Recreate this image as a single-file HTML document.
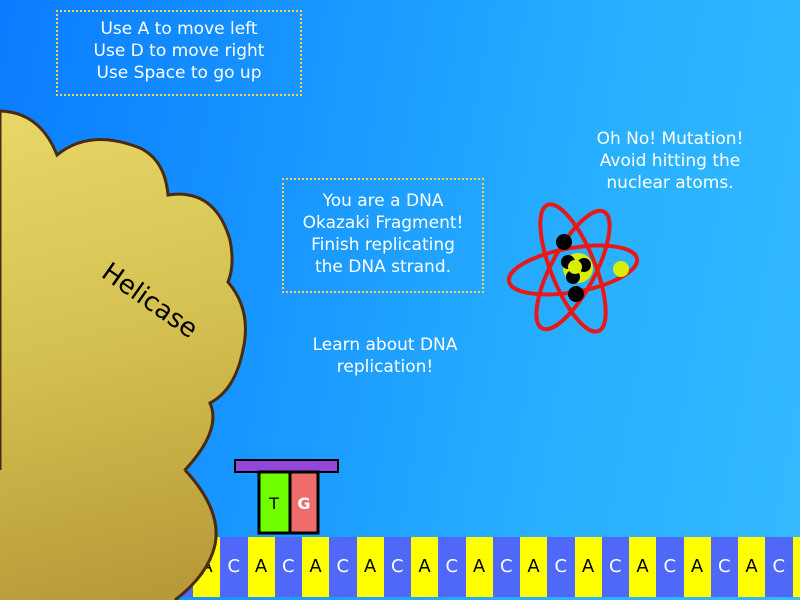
<!DOCTYPE html>
<html><head><meta charset="utf-8"><style>
html,body{margin:0;padding:0}
#game{position:relative;width:800px;height:600px;overflow:hidden;background:linear-gradient(100deg,#0a7cff 0%,#1896ff 35%,#28b0ff 70%,#35baff 100%);font-family:"DejaVu Sans","Liberation Sans",sans-serif;color:#fff}
.box{position:absolute;border:2px dotted #f0d060;text-align:center;font-size:17px;line-height:22px;box-sizing:border-box}
.txt{position:absolute;text-align:center;font-size:17px;line-height:22px}
#strip{position:absolute;left:0;top:537px;width:800px;height:60px;background:#5068f8}
#strip div{position:absolute;top:0;height:60px;width:27px;text-align:center;line-height:60px;font-size:18px}
</style></head><body>
<div id="game">
<div class="box" style="left:56px;top:10px;width:246px;height:86px;padding-top:6px">Use A to move left<br>Use D to move right<br>Use Space to go up</div>
<div class="box" style="left:282px;top:178px;width:202px;height:115px;padding-top:10px">You are a DNA<br>Okazaki Fragment!<br>Finish replicating<br>the DNA strand.</div>
<div class="txt" style="left:285px;top:334px;width:200px">Learn about DNA<br>replication!</div>
<div class="txt" style="left:575px;top:128px;width:190px">Oh No! Mutation!<br>Avoid hitting the<br>nuclear atoms.</div>
<svg style="position:absolute;left:0;top:0" width="800" height="600">
<defs><linearGradient id="hg" gradientUnits="userSpaceOnUse" x1="0" y1="110" x2="120" y2="600"><stop offset="0" stop-color="#e8d868"/><stop offset="0.5" stop-color="#d4c050"/><stop offset="1" stop-color="#b89a38"/></linearGradient></defs>
<path d="M0,111 Q40,112 57,155 Q90,128 140,148 Q165,160 168,195 Q215,188 230,240 Q235,265 228,282 Q252,310 243,350 Q235,390 210,403 Q222,430 185,470 Q222,510 215,545 Q208,575 175,600 L0,600 Z" fill="url(#hg)" stroke="#4a2a10" stroke-width="3"/>
<text x="0" y="0" font-size="26" fill="#000" font-family="DejaVu Sans,Liberation Sans,sans-serif" transform="translate(100,276) rotate(35)">Helicase</text>
<g fill="none" stroke="#e81818" stroke-width="4">
<ellipse cx="573" cy="270" rx="65" ry="22" transform="rotate(-10 573 270)"/>
<ellipse cx="573" cy="268" rx="68" ry="22" transform="rotate(68 573 268)"/>
<ellipse cx="573" cy="270" rx="66" ry="22" transform="rotate(-62 573 270)"/>
</g>
<g>
<circle cx="578" cy="268" r="15" fill="#d8f000"/>
<circle cx="564" cy="242" r="8" fill="#000"/><circle cx="568" cy="262" r="7" fill="#000"/><circle cx="584" cy="265" r="7" fill="#000"/><circle cx="573" cy="277" r="7" fill="#000"/><circle cx="576" cy="294" r="8" fill="#000"/>
<circle cx="575" cy="267" r="7" fill="#d8f000"/><circle cx="621" cy="269" r="8" fill="#d8f000"/>
</g>
<g>
<rect x="235" y="460" width="103" height="12" fill="#9048d8" stroke="#000" stroke-width="2"/>
<rect x="259" y="472" width="31" height="61" fill="#70ff00" stroke="#000" stroke-width="3"/>
<rect x="290" y="472" width="28" height="61" fill="#ee6c6c" stroke="#000" stroke-width="3"/>
<text x="274" y="509" font-size="16" text-anchor="middle" fill="#000" font-family="DejaVu Sans,sans-serif">T</text>
<text x="304" y="509" font-size="16" text-anchor="middle" fill="#fff" font-weight="bold" font-family="DejaVu Sans,sans-serif">G</text>
</g>
</svg>
<div id="strip"></div>
<svg style="position:absolute;left:0;top:0" width="800" height="600">
<defs><linearGradient id="hg2" gradientUnits="userSpaceOnUse" x1="0" y1="110" x2="120" y2="600"><stop offset="0" stop-color="#e8d868"/><stop offset="0.5" stop-color="#d4c050"/><stop offset="1" stop-color="#b89a38"/></linearGradient></defs>
<path d="M185,470 Q222,510 215,545 Q208,575 175,600 L0,600 L0,470 Z" fill="url(#hg2)" stroke="none"/>
<path d="M185,470 Q222,510 215,545 Q208,575 175,600" fill="none" stroke="#4a2a10" stroke-width="3"/>
</svg>
</div>
<script>
const bases=["A","C","A","C","A","C","A","C","A","C","A","C","A","C","A","C","A","C","A","C","A","C","A"];
const strip=document.getElementById('strip');
for(let i=0;i<bases.length;i++){
  const x=193+i*27.25;
  if(x>800)break;
  const d=document.createElement('div');
  
  
  d.style.left=x+'px';
  const a=bases[i]==="A";
  d.style.background=a?'#ffff00':'#5068f8';
  d.style.color=a?'#000':'#fff';
  d.textContent=bases[i];
  strip.appendChild(d);
}
</script>
</body></html>
